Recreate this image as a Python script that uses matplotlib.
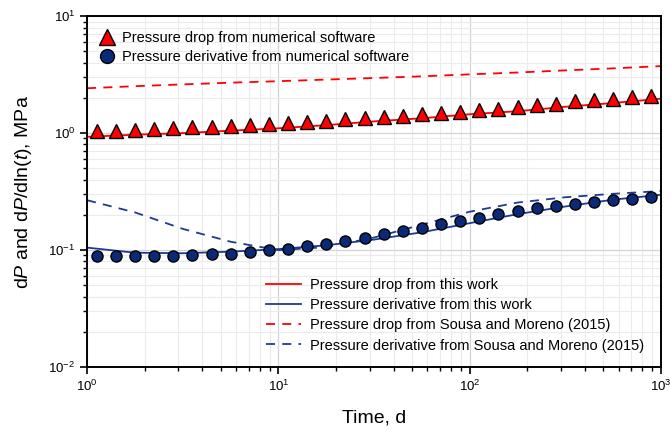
import matplotlib
matplotlib.use("Agg")
import matplotlib.pyplot as plt
import numpy as np

plt.rcParams["font.family"] = ["Liberation Sans", "DejaVu Sans"]
plt.rcParams["mathtext.fontset"] = "custom"
plt.rcParams["mathtext.rm"] = "Liberation Sans"
plt.rcParams["mathtext.it"] = "Liberation Sans:italic"
plt.rcParams["mathtext.default"] = "regular"

# numerical software samples (time in days)
t_num = [1.12, 1.41, 1.78, 2.24, 2.82, 3.55, 4.47, 5.62, 7.08, 8.91,
         11.2, 14.1, 17.8, 22.4, 28.2, 35.5, 44.7, 56.2, 70.8, 89.1,
         112, 141, 178, 224, 282, 355, 447, 562, 708, 891]
dp_num = [1.04, 1.05, 1.07, 1.08, 1.10, 1.12, 1.13, 1.16, 1.18, 1.20,
          1.22, 1.25, 1.28, 1.32, 1.35, 1.38, 1.41, 1.46, 1.50, 1.53,
          1.58, 1.62, 1.66, 1.73, 1.79, 1.87, 1.91, 1.96, 2.02, 2.09]
der_num = [0.089, 0.089, 0.089, 0.089, 0.089, 0.090, 0.092, 0.093, 0.096, 0.100,
           0.103, 0.108, 0.113, 0.120, 0.127, 0.136, 0.146, 0.156, 0.167, 0.178,
           0.190, 0.203, 0.215, 0.227, 0.239, 0.249, 0.259, 0.268, 0.275, 0.284]

# analytical curves
t_line = [1.0, 1.78, 3.16, 5.62, 10.0, 17.8, 31.6, 56.2, 100, 178, 316, 562, 1000]
dp_this = [0.93, 0.97, 1.00, 1.05, 1.10, 1.17, 1.26, 1.34, 1.45, 1.54, 1.68, 1.81, 1.97]
der_this = [0.105, 0.095, 0.094, 0.097, 0.102, 0.110, 0.123, 0.142, 0.170, 0.203, 0.236, 0.270, 0.297]
dp_sousa = [2.42, 2.52, 2.61, 2.70, 2.78, 2.87, 2.96, 3.06, 3.18, 3.30, 3.44, 3.58, 3.74]
der_sousa = [0.267, 0.210, 0.152, 0.118, 0.100, 0.106, 0.128, 0.165, 0.213, 0.255, 0.283, 0.303, 0.320]

red = "#ff0000"
navy = "#1f3a93"
dot = "#0a2a78"

fig = plt.figure(figsize=(6.7, 4.37), dpi=100)
ax = fig.add_axes([0.13, 0.16, 0.8566, 0.803])

l1, = ax.plot(t_line, dp_this, color=red, lw=1.3)
l2, = ax.plot(t_line, der_this, color=navy, lw=1.3)
l3, = ax.plot(t_line, dp_sousa, color=red, lw=1.3, ls=(0, (5, 4)))
l4, = ax.plot(t_line, der_sousa, color=navy, lw=1.3, ls=(0, (5, 4)))

m1, = ax.plot(t_num, dp_num, ls="none", marker="^", ms=9.5, mfc=red,
              mec="black", mew=1.0)
m2, = ax.plot(t_num, der_num, ls="none", marker="o", ms=8, mfc=dot,
              mec="black", mew=1.0)

ax.set_xscale("log")
ax.set_yscale("log")
ax.set_xlim(1, 1000)
ax.set_ylim(1e-2, 1e1)

ax.grid(True, which="major", color="#d4d4d4", lw=0.9)
ax.grid(True, which="minor", color="#ebebeb", lw=0.8)
ax.set_axisbelow(True)

for s in ax.spines.values():
    s.set_linewidth(1.4)
ax.tick_params(which="major", direction="out", length=5, width=1.2, labelsize=9.5)
ax.tick_params(which="minor", direction="out", length=3, width=1.0)

ax.set_xlabel("Time, d", fontsize=14, labelpad=11)
ax.set_ylabel(r"d$\mathit{P}$ and d$\mathit{P}$/dln($\mathit{t}$), MPa",
              fontsize=14, labelpad=10)

leg1 = ax.legend([m1, m2], ["Pressure drop from numerical software",
                            "Pressure derivative from numerical software"],
                 loc="upper left", frameon=False, fontsize=10.5, markerscale=1.25,
                 handlelength=1.2, handletextpad=0.4, labelspacing=0.38,
                 bbox_to_anchor=(0.0095, 0.975), borderaxespad=0)
ax.add_artist(leg1)
ax.legend([l1, l2, l3, l4], ["Pressure drop from this work",
                             "Pressure derivative from this work",
                             "Pressure drop from Sousa and Moreno (2015)",
                             "Pressure derivative from Sousa and Moreno (2015)"],
          loc="upper left", frameon=False, fontsize=10.5, handlelength=2.4,
          handletextpad=0.6, labelspacing=0.42,
          bbox_to_anchor=(0.302, 0.27), borderaxespad=0)

fig.savefig("out.png", dpi=100)
